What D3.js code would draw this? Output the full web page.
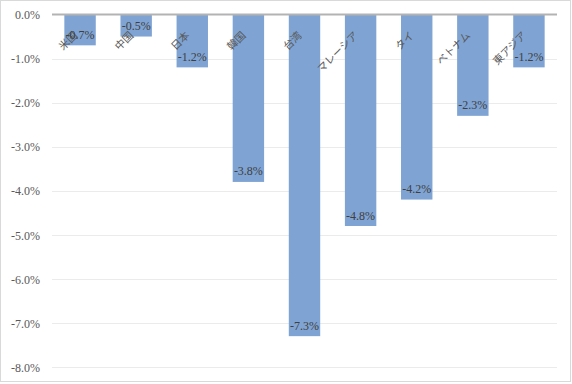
<!DOCTYPE html>
<html>
<head>
<meta charset="utf-8">
<script src="https://cdn.jsdelivr.net/npm/d3@7"></script>
<style>
html,body{margin:0;padding:0;background:#fff;}
svg{display:block;}
</style>
</head>
<body>
<script>
const categories = ["米国","中国","日本","韓国","台湾","マレーシア","タイ","ベトナム","東アジア"];
const values = [-0.7,-0.5,-1.2,-3.8,-7.3,-4.8,-4.2,-2.3,-1.2];
const yTicks = [0,-1,-2,-3,-4,-5,-6,-7,-8];

const W = 572, H = 384;
const svg = d3.select("body").append("svg").attr("width", W).attr("height", H);
const fmt = d3.formatLocale({decimal:".",thousands:",",grouping:[3],currency:["",""],minus:"-"}).format(".1f");
const pct = d => fmt(d) + "%";

svg.append("rect").attr("x",0.5).attr("y",0.5).attr("width",W-2).attr("height",H-3)
  .attr("fill","#fff").attr("stroke","#d9d9d9").attr("stroke-width",1);

const plotL = 52, plotR = 557, plotT = 14.5, plotB = 367;
const x = d3.scaleBand().domain(categories).range([plotL,plotR]).paddingInner(0.44).paddingOuter(0.22);
const y = d3.scaleLinear().domain([0,-8]).range([plotT,plotB]);

// gridlines
svg.append("g").selectAll("line").data(yTicks.filter(d=>d!==0)).join("line")
  .attr("x1",plotL).attr("x2",plotR)
  .attr("y1",d=>Math.round(y(d))+0.5).attr("y2",d=>Math.round(y(d))+0.5)
  .attr("stroke","#ebebeb").attr("stroke-width",1);

// y axis labels
const yAxis = d3.axisLeft(y).tickValues(yTicks).tickSize(0).tickPadding(0).tickFormat(pct);
const ga = svg.append("g").attr("transform",`translate(40,0)`).call(yAxis);
ga.select(".domain").remove();
ga.selectAll("text").attr("font-family","'Liberation Serif', serif").attr("font-size","12px")
  .attr("fill","#595959").attr("dy","0.35em");

// bars
svg.append("g").selectAll("rect").data(values).join("rect")
  .attr("x",(d,i)=>x(categories[i]))
  .attr("y",y(0))
  .attr("width",x.bandwidth())
  .attr("height",d=>y(d)-y(0))
  .attr("fill","#7fa4d3");

// zero line
svg.append("line").attr("x1",plotL).attr("x2",plotR).attr("y1",y(0)).attr("y2",y(0))
  .attr("stroke","#b3b3b3").attr("stroke-width",2);

// category labels
svg.append("g").selectAll("text").data(categories).join("text")
  .attr("transform",d=>`translate(${x(d)+x.bandwidth()/2-2},36) rotate(-45)`)
  .attr("text-anchor","end")
  .attr("font-family","'Noto Sans CJK JP', sans-serif").attr("font-size","10.5px")
  .attr("fill","#595959")
  .text(d=>d);

// data labels
svg.append("g").selectAll("text").data(values).join("text")
  .attr("x",(d,i)=>x(categories[i])+x.bandwidth()/2)
  .attr("y",d=>y(d)-6.5)
  .attr("text-anchor","middle")
  .attr("font-family","'Liberation Serif', serif").attr("font-size","12px")
  .attr("fill","#404040")
  .text(pct);
</script>
</body>
</html>
